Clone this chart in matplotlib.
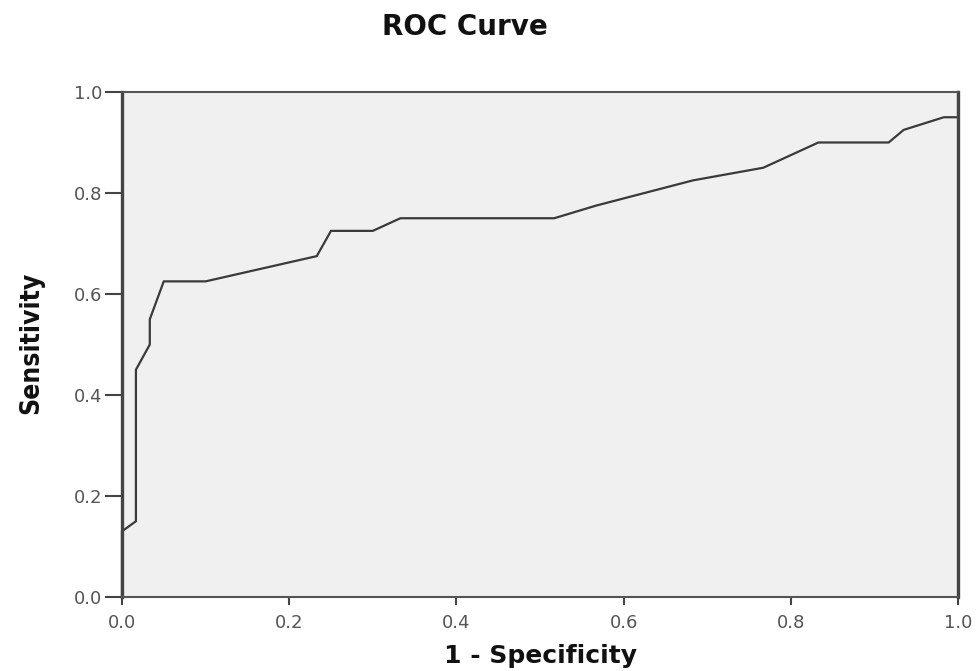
import matplotlib.pyplot as plt

# ROC points
fpr = [0.0, 0.0, 0.0167, 0.0167, 0.0333, 0.0333, 0.05, 0.10, 0.233, 0.25,
       0.30, 0.333, 0.517, 0.567, 0.683, 0.767, 0.833, 0.917, 0.935, 0.983,
       1.0, 1.0]
tpr = [0.0, 0.13, 0.15, 0.45, 0.50, 0.55, 0.625, 0.625, 0.675, 0.725,
       0.725, 0.75, 0.75, 0.775, 0.825, 0.85, 0.90, 0.90, 0.925, 0.95,
       0.95, 1.0]
ticks = [0.0, 0.2, 0.4, 0.6, 0.8, 1.0]

fig = plt.figure(figsize=(9.78, 6.71), dpi=100)
ax = fig.add_axes([0.1247, 0.1103, 0.8549, 0.7526])
ax.set_facecolor('#f0f0f0')

ax.plot(fpr, tpr, color='#3a3a3a', linewidth=1.6, clip_on=False)

ax.set_xlim(0, 1)
ax.set_ylim(0, 1)
ax.set_xticks(ticks)
ax.set_yticks(ticks)
ax.set_xticklabels(['%.1f' % t for t in ticks])
ax.set_yticklabels(['%.1f' % t for t in ticks])
ax.tick_params(axis='x', length=6, width=1.5, color='#444444', pad=6,
               labelsize=13, labelcolor='#555555')
ax.tick_params(axis='y', length=12, width=1.5, color='#444444', pad=2,
               labelsize=13, labelcolor='#555555')

for side in ['top', 'bottom']:
    ax.spines[side].set_linewidth(1.5)
    ax.spines[side].set_color('#555555')
for side in ['left', 'right']:
    ax.spines[side].set_linewidth(2.4)
    ax.spines[side].set_color('#444444')

fig.text(465 / 978, 1 - 27 / 671, 'ROC Curve', ha='center', va='center',
         fontsize=20, fontweight='bold', color='#111111')
fig.text(540 / 978, 1 - 656 / 671, '1 - Specificity', ha='center', va='center',
         fontsize=18, fontweight='bold', color='#111111')
fig.text(31 / 978, 1 - 343 / 671, 'Sensitivity', ha='center', va='center',
         rotation=90, fontsize=19, fontweight='bold', fontstretch='condensed',
         color='#111111', family=['DejaVu Sans'])

plt.savefig('out.png', dpi=100)
